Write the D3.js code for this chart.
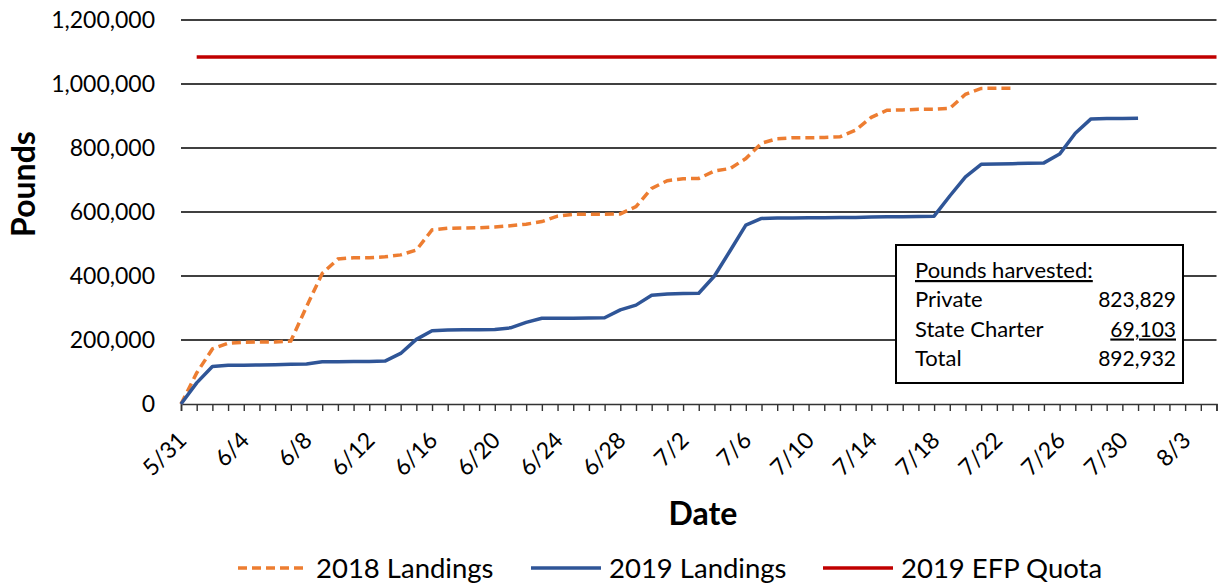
<!DOCTYPE html>
<html>
<head>
<meta charset="utf-8">
<script src="https://cdn.jsdelivr.net/npm/d3@7"></script>
<style>
  body { margin: 0; background: #fff; }
  svg { font-family: Lato, "Open Sans", sans-serif; }
</style>
</head>
<body>
<svg id="chart" width="1224" height="588"></svg>
<script>
// Axis span: 5/31 to 8/5 (days counted from 5/31).
const startDate = new Date(2019, 4, 31);
const endDate = new Date(2019, 7, 5);

// Cumulative landings, one value per day starting 5/31.
const landings2018 = [
  0, 97000, 172000, 190000, 193000, 194000, 194000, 197000, 304000, 408000,
  453000, 457000, 457000, 460000, 466000, 481000, 544000, 549000, 550000, 551000,
  553000, 557000, 562000, 570000, 587000, 593000, 593000, 593000, 594000, 617000,
  674000, 698000, 704000, 705000, 728000, 736000, 767000, 815000, 829000, 832000,
  832000, 833000, 835000, 856000, 896000, 918000, 919000, 921000, 921000, 924000,
  968000, 986000, 987000, 987000
];
const landings2019 = [
  0, 66000, 117000, 121000, 121000, 122000, 123000, 124000, 125000, 132000,
  132000, 133000, 133000, 134000, 158000, 202000, 229000, 231000, 232000, 232000,
  233000, 238000, 255000, 268000, 268000, 268000, 268500, 269500, 294000, 309000,
  340000, 344000, 345000, 346000, 400000, 479000, 559000, 580000, 581000, 581000,
  582000, 582000, 582500, 583000, 584000, 585000, 585000, 586000, 587000, 650000,
  710000, 749000, 750000, 751000, 752000, 753500, 781000, 846000, 891000, 892000,
  892500, 892932
];
const quotaStartDay = 1;
const quota2019 = 1084000;

const yTicks = [0, 200000, 400000, 600000, 800000, 1000000, 1200000];

const harvestRows = [
  { label: "Private", value: "823,829", underline: false },
  { label: "State Charter", value: "69,103", underline: true },
  { label: "Total", value: "892,932", underline: false }
];

const legendItems = [
  { name: "2018 Landings", color: "#ED7D31", dash: "9,5" },
  { name: "2019 Landings", color: "#2F5597", dash: null },
  { name: "2019 EFP Quota", color: "#C00000", dash: null }
];

const svg = d3.select("#chart");

const x = d3.scaleTime().domain([startDate, endDate]).range([181, 1216.5]);
const y = d3.scaleLinear().domain([0, 1200000]).range([404, 20]);

const dayOf = i => d3.timeDay.offset(startDate, i);

// Horizontal gridlines.
svg.append("g")
  .selectAll("line")
  .data(yTicks.slice(1))
  .join("line")
  .attr("x1", 181).attr("x2", 1216.5)
  .attr("y1", d => y(d)).attr("y2", d => y(d))
  .attr("stroke", "#000").attr("stroke-width", 1.6);

// Y axis labels.
svg.append("g")
  .attr("transform", "translate(181,0)")
  .call(d3.axisLeft(y).tickValues(yTicks).tickSize(0).tickPadding(26)
    .tickFormat(d3.format(",")))
  .call(g => g.select(".domain").remove())
  .call(g => g.selectAll("text").attr("font-size", 23)
    .attr("font-family", "Lato").attr("fill", "#000"));

// X axis: a tick every day, labels every 4 days.
const allDays = d3.timeDay.range(startDate, d3.timeDay.offset(endDate, 1));
svg.append("g")
  .attr("transform", "translate(0,404)")
  .call(d3.axisBottom(x).tickValues(allDays).tickSize(7).tickFormat(""))
  .call(g => g.select(".domain").attr("stroke", "#333").attr("stroke-width", 1.6))
  .call(g => g.selectAll(".tick line").attr("stroke", "#333").attr("stroke-width", 1.4));

const labelDays = allDays.filter((d, i) => i % 4 === 0 && d <= new Date(2019, 7, 3));
const fmt = d3.timeFormat("%-m/%-d");
svg.append("g")
  .selectAll("text")
  .data(labelDays)
  .join("text")
  .attr("transform", d => "translate(" + (x(d) + 1.3) + ",436) rotate(-45)")
  .attr("text-anchor", "end")
  .attr("dy", "0.35em")
  .attr("font-size", 23)
  .text(d => fmt(d));

// Axis titles.
svg.append("text")
  .attr("x", 703).attr("y", 525)
  .attr("text-anchor", "middle")
  .attr("font-size", 32).attr("font-weight", "bold")
  .text("Date");

svg.append("text")
  .attr("transform", "translate(35,184) rotate(-90)")
  .attr("text-anchor", "middle")
  .attr("font-size", 32).attr("font-weight", "bold")
  .text("Pounds");

// Series lines.
const line = d3.line()
  .x((d, i) => x(dayOf(i)))
  .y(d => y(d));

svg.append("line")
  .attr("x1", x(dayOf(quotaStartDay))).attr("x2", x(endDate))
  .attr("y1", y(quota2019)).attr("y2", y(quota2019))
  .attr("stroke", legendItems[2].color).attr("stroke-width", 3.5);

svg.append("path")
  .datum(landings2018)
  .attr("d", line)
  .attr("fill", "none")
  .attr("stroke", legendItems[0].color)
  .attr("stroke-width", 3.5)
  .attr("stroke-dasharray", legendItems[0].dash);

svg.append("path")
  .datum(landings2019)
  .attr("d", line)
  .attr("fill", "none")
  .attr("stroke", legendItems[1].color)
  .attr("stroke-width", 3.5)
  .attr("stroke-linejoin", "round");

// Harvest summary box.
const box = svg.append("g").attr("transform", "translate(896,245)");
box.append("rect")
  .attr("width", 287).attr("height", 138)
  .attr("fill", "#fff").attr("stroke", "#000").attr("stroke-width", 2);
box.append("text")
  .attr("x", 19).attr("y", 33)
  .attr("font-size", 22)
  .attr("text-decoration", "underline")
  .text("Pounds harvested:");
box.selectAll(".row")
  .data(harvestRows)
  .join("g")
  .attr("class", "row")
  .attr("transform", (d, i) => "translate(0," + (62 + i * 29.5) + ")")
  .each(function(d) {
    const g = d3.select(this);
    g.append("text").attr("x", 19).attr("font-size", 22).text(d.label);
    g.append("text").attr("x", 280).attr("font-size", 21)
      .attr("text-anchor", "end")
      .attr("text-decoration", d.underline ? "underline" : null)
      .text(d.value);
  });

// Legend.
const legendX = [238, 531, 823];
const legend = svg.append("g").attr("transform", "translate(0,568)");
legendItems.forEach(function(item, i) {
  legend.append("line")
    .attr("x1", legendX[i]).attr("x2", legendX[i] + 70)
    .attr("stroke", item.color).attr("stroke-width", 3.5)
    .attr("stroke-dasharray", item.dash);
  legend.append("text")
    .attr("x", legendX[i] + 78).attr("dy", "0.35em")
    .attr("font-size", 27.5)
    .text(item.name);
});
</script>
</body>
</html>
